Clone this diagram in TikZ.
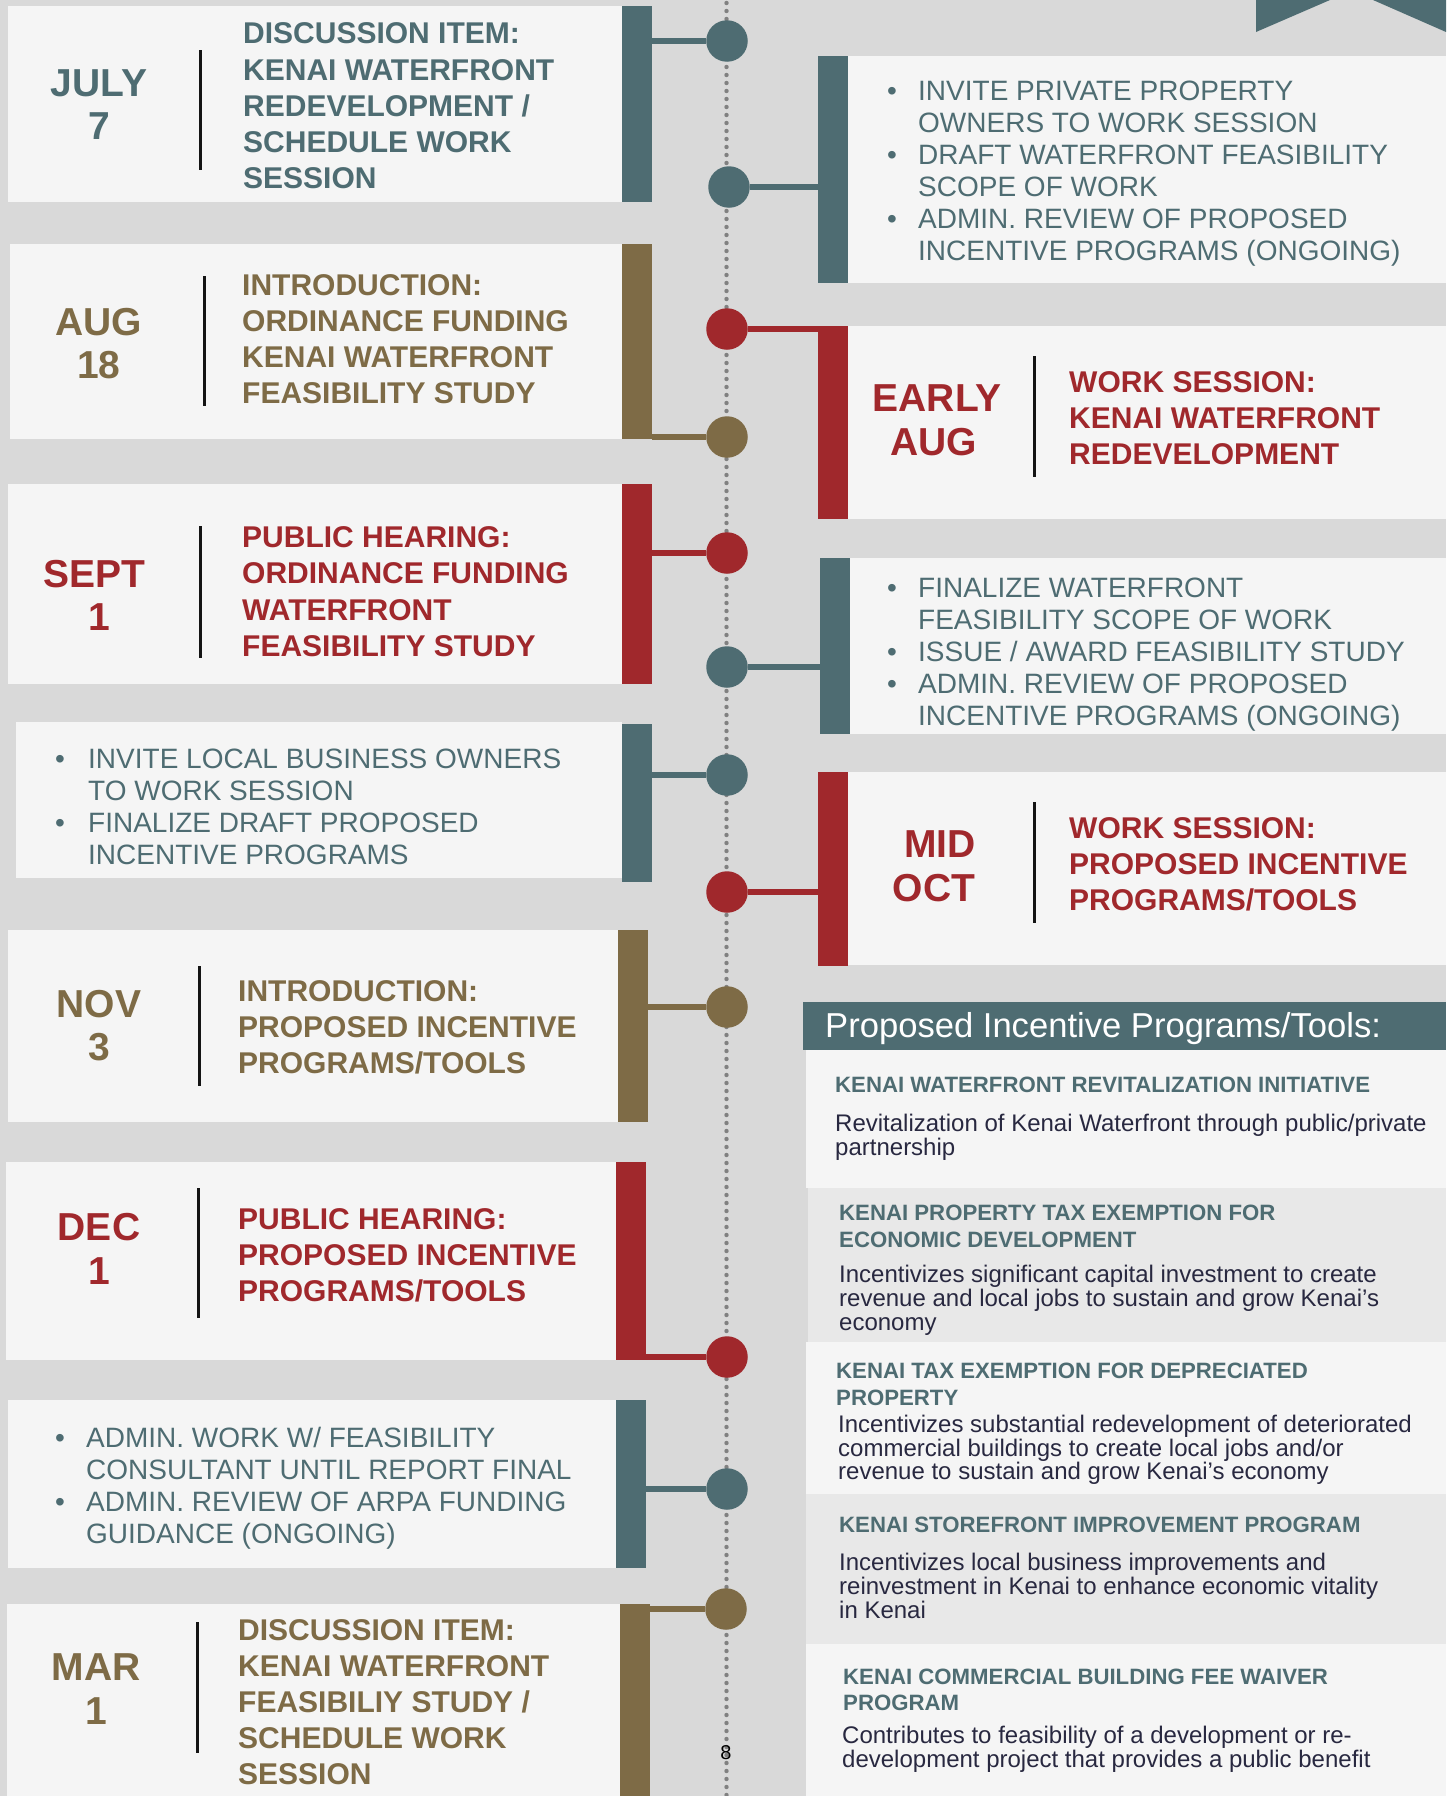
\documentclass[tikz,border=0pt]{standalone}
\usepackage{fontspec}
\setmainfont{Liberation Sans}
\definecolor{cteal}{RGB}{78,108,114}
\definecolor{cbrown}{RGB}{126,107,70}
\definecolor{cred}{RGB}{160,40,44}
\definecolor{cbg}{RGB}{217,217,217}
\definecolor{cwhite}{RGB}{245,245,245}
\definecolor{crow}{RGB}{232,232,232}
\definecolor{cdot}{RGB}{128,128,128}
\definecolor{cnavy}{RGB}{40,40,64}
\definecolor{csep}{RGB}{20,20,20}
\newcommand\rbox[6]{\node[rbx, fill=#6, minimum width={#4-#2}, minimum height={#5-#3}] (#1) at (#2,#3) {};}
\newcommand\tline[5]{\node[#1] (#2) at (#3,#4) {#5};}
\begin{document}
\begin{tikzpicture}[x=1pt,y=-1pt,
  rbx/.style={rectangle, anchor=north west, inner sep=0, outer sep=0, draw=none},
  ttl/.style={font=\bfseries\fontsize{30}{36}\selectfont, anchor=base west, inner sep=0},
  dte/.style={font=\bfseries\fontsize{39}{44}\selectfont, anchor=base, inner sep=0},
  blt/.style={font=\fontsize{28}{32}\selectfont, anchor=base west, inner sep=0, text=cteal},
  bul/.style={font=\fontsize{28}{32}\selectfont, anchor=base, inner sep=0, text=cteal},
  ptl/.style={font=\bfseries\fontsize{22.2}{26}\selectfont, anchor=base west, inner sep=0, text=cteal},
  pbd/.style={font=\fontsize{24}{24}\selectfont, anchor=base west, inner sep=0, text=cnavy},
  hdr/.style={font=\fontsize{34.6}{38}\selectfont, anchor=base west, inner sep=0, text=white},
  sepl/.style={line width=3pt, draw=csep},
  conn/.style={line width=6pt},
  tdot/.style={circle, inner sep=0, outer sep=0, minimum size=41.5pt, draw=none}]
\useasboundingbox (0,0) rectangle (1446,1796);
\fill[cbg] (0,0) rectangle (1446,1796);
% ribbon end top right
\fill[cteal] (1256,0) -- (1330,0) -- (1256,32) -- cycle;
\fill[cteal] (1373,0) -- (1446,0) -- (1446,32) -- cycle;
% timeline dots
\coordinate (ttop) at (726.5,3);
\coordinate (tbot) at (726.5,1796);
\draw[cdot, line width=4.4pt, line cap=round, dash pattern=on 0pt off 8pt] (ttop) -- (tbot);
% left boxes
\rbox{W1}{8}{6}{622}{202}{cwhite}   \rbox{LB1}{622}{6}{652}{202}{cteal}
\rbox{W2}{10}{244}{622}{439}{cwhite} \rbox{LB2}{622}{244}{652}{439}{cbrown}
\rbox{W3}{8}{484}{622}{684}{cwhite}  \rbox{LB3}{622}{484}{652}{684}{cred}
\rbox{W4}{16}{722}{622}{878}{cwhite} \rbox{LB4}{622}{724}{652}{882}{cteal}
\rbox{W5}{8}{930}{618}{1122}{cwhite} \rbox{LB5}{618}{930}{648}{1122}{cbrown}
\rbox{W6}{6}{1162}{616}{1360}{cwhite} \rbox{LB6}{616}{1162}{646}{1360}{cred}
\rbox{W7}{8}{1400}{616}{1568}{cwhite} \rbox{LB7}{616}{1400}{646}{1568}{cteal}
\rbox{W8}{7}{1604}{620}{1796}{cwhite} \rbox{LB8}{620}{1604}{650}{1796}{cbrown}
% right boxes
\rbox{RW1}{848}{56}{1446}{283}{cwhite}  \rbox{RB1}{818}{56}{848}{283}{cteal}
\rbox{RW2}{848}{326}{1446}{519}{cwhite} \rbox{RB2}{818}{326}{848}{519}{cred}
\rbox{RW3}{850}{558}{1446}{734}{cwhite} \rbox{RB3}{820}{558}{850}{734}{cteal}
\rbox{RW4}{848}{772}{1446}{965}{cwhite} \rbox{RB4}{818}{772}{848}{966}{cred}
% panel
\rbox{PH}{803}{1002}{1446}{1050}{cteal}
\rbox{P1}{806}{1050}{1446}{1188}{cwhite}
\rbox{P2}{808}{1188}{1446}{1342}{crow}
\rbox{P3}{806}{1342}{1446}{1494}{cwhite}
\rbox{P4}{806}{1494}{1446}{1644}{crow}
\rbox{P5}{806}{1644}{1446}{1796}{cwhite}
% circles
\node[tdot, fill=cteal]  (c1)  at (727,41) {};
\node[tdot, fill=cteal]  (c2)  at (729,187) {};
\node[tdot, fill=cred]   (c3)  at (727,329) {};
\node[tdot, fill=cbrown] (c4)  at (727,437) {};
\node[tdot, fill=cred]   (c5)  at (727,553) {};
\node[tdot, fill=cteal]  (c6)  at (727,667) {};
\node[tdot, fill=cteal]  (c7)  at (727,775) {};
\node[tdot, fill=cred]   (c8)  at (727,892) {};
\node[tdot, fill=cbrown] (c9)  at (727,1007) {};
\node[tdot, fill=cred]   (c10) at (727,1357) {};
\node[tdot, fill=cteal]  (c11) at (727,1489) {};
\node[tdot, fill=cbrown] (c12) at (726,1609) {};
% connectors
\draw[conn, cteal]  (c1)  -- (c1 -| LB1.east);
\draw[conn, cteal]  (c2)  -- (c2 -| RB1.west);
\draw[conn, cred]   (c3)  -- (c3 -| RB2.west);
\draw[conn, cbrown] (c4)  -- (c4 -| LB2.east);
\draw[conn, cred]   (c5)  -- (c5 -| LB3.east);
\draw[conn, cteal]  (c6)  -- (c6 -| RB3.west);
\draw[conn, cteal]  (c7)  -- (c7 -| LB4.east);
\draw[conn, cred]   (c8)  -- (c8 -| RB4.west);
\draw[conn, cbrown] (c9)  -- (c9 -| LB5.east);
\draw[conn, cred]   (c10) -- (c10 -| LB6.east);
\draw[conn, cteal]  (c11) -- (c11 -| LB7.east);
\draw[conn, cbrown] (c12) -- (c12 -| LB8.east);
% separators
\draw[sepl] (200,50) -- (200,170);
\draw[sepl] (204,276) -- (204,406);
\draw[sepl] (200,526) -- (200,658);
\draw[sepl] (199,966) -- (199,1086);
\draw[sepl] (198,1188) -- (198,1318);
\draw[sepl] (197,1622) -- (197,1753);
\draw[sepl] (1034,356) -- (1034,477);
\draw[sepl] (1034,802) -- (1034,923);
% box 1
\tline{dte, text=cteal}{d1a}{99}{96}{JULY}
\tline{dte, text=cteal}{d1b}{99}{139}{7}
\tline{ttl, text=cteal}{t1a}{243}{43}{DISCUSSION ITEM:}
\tline{ttl, text=cteal}{t1b}{243}{80}{KENAI WATERFRONT}
\tline{ttl, text=cteal}{t1c}{243}{116}{REDEVELOPMENT /}
\tline{ttl, text=cteal}{t1d}{243}{152}{SCHEDULE WORK}
\tline{ttl, text=cteal}{t1e}{243}{188}{SESSION}
% box 2
\tline{dte, text=cbrown}{d2a}{99}{335}{AUG}
\tline{dte, text=cbrown}{d2b}{99}{378}{18}
\tline{ttl, text=cbrown}{t2a}{242}{295}{INTRODUCTION:}
\tline{ttl, text=cbrown}{t2b}{242}{331}{ORDINANCE FUNDING}
\tline{ttl, text=cbrown}{t2c}{242}{367}{KENAI WATERFRONT}
\tline{ttl, text=cbrown}{t2d}{242}{403}{FEASIBILITY STUDY}
% box 3
\tline{dte, text=cred}{d3a}{94}{587}{SEPT}
\tline{dte, text=cred}{d3b}{99}{630}{1}
\tline{ttl, text=cred}{t3a}{242}{547}{PUBLIC HEARING:}
\tline{ttl, text=cred}{t3b}{242}{583}{ORDINANCE FUNDING}
\tline{ttl, text=cred}{t3c}{242}{620}{WATERFRONT}
\tline{ttl, text=cred}{t3d}{242}{656}{FEASIBILITY STUDY}
% box 4
\tline{bul}{b4a}{60}{768}{•}
\tline{blt}{t4a}{88}{768}{INVITE LOCAL BUSINESS OWNERS}
\tline{blt}{t4b}{88}{800}{TO WORK SESSION}
\tline{bul}{b4b}{60}{832}{•}
\tline{blt}{t4c}{88}{832}{FINALIZE DRAFT PROPOSED}
\tline{blt}{t4d}{88}{864}{INCENTIVE PROGRAMS}
% box 5
\tline{dte, text=cbrown}{d5a}{99}{1017}{NOV}
\tline{dte, text=cbrown}{d5b}{99}{1060}{3}
\tline{ttl, text=cbrown}{t5a}{238}{1001}{INTRODUCTION:}
\tline{ttl, text=cbrown}{t5b}{238}{1037}{PROPOSED INCENTIVE}
\tline{ttl, text=cbrown}{t5c}{238}{1073}{PROGRAMS/TOOLS}
% box 6
\tline{dte, text=cred}{d6a}{99}{1240}{DEC}
\tline{dte, text=cred}{d6b}{99}{1284}{1}
\tline{ttl, text=cred}{t6a}{238}{1229}{PUBLIC HEARING:}
\tline{ttl, text=cred}{t6b}{238}{1265}{PROPOSED INCENTIVE}
\tline{ttl, text=cred}{t6c}{238}{1301}{PROGRAMS/TOOLS}
% box 7
\tline{bul}{b7a}{60}{1447}{•}
\tline{blt}{t7a}{86}{1447}{ADMIN. WORK W/ FEASIBILITY}
\tline{blt}{t7b}{86}{1479}{CONSULTANT UNTIL REPORT FINAL}
\tline{bul}{b7b}{60}{1511}{•}
\tline{blt}{t7c}{86}{1511}{ADMIN. REVIEW OF ARPA FUNDING}
\tline{blt}{t7d}{86}{1543}{GUIDANCE (ONGOING)}
% box 8
\tline{dte, text=cbrown}{d8a}{96}{1680}{MAR}
\tline{dte, text=cbrown}{d8b}{96}{1724}{1}
\tline{ttl, text=cbrown}{t8a}{238}{1640}{DISCUSSION ITEM:}
\tline{ttl, text=cbrown}{t8b}{238}{1676}{KENAI WATERFRONT}
\tline{ttl, text=cbrown}{t8c}{238}{1712}{FEASIBILIY STUDY /}
\tline{ttl, text=cbrown}{t8d}{238}{1748}{SCHEDULE WORK}
\tline{ttl, text=cbrown}{t8e}{238}{1784}{SESSION}
% right box 1
\tline{bul}{br1a}{892}{100}{•}
\tline{blt}{r1a}{918}{100}{INVITE PRIVATE PROPERTY}
\tline{blt}{r1b}{918}{132}{OWNERS TO WORK SESSION}
\tline{bul}{br1b}{892}{164}{•}
\tline{blt}{r1c}{918}{164}{DRAFT WATERFRONT FEASIBILITY}
\tline{blt}{r1d}{918}{196}{SCOPE OF WORK}
\tline{bul}{br1c}{892}{228}{•}
\tline{blt}{r1e}{918}{228}{ADMIN. REVIEW OF PROPOSED}
\tline{blt}{r1f}{918}{260}{INCENTIVE PROGRAMS (ONGOING)}
% right box 2
\tline{dte, text=cred}{dr2a}{937}{411}{EARLY}
\tline{dte, text=cred}{dr2b}{934}{455}{AUG}
\tline{ttl, text=cred}{r2a}{1069}{392}{WORK SESSION:}
\tline{ttl, text=cred}{r2b}{1069}{428}{KENAI WATERFRONT}
\tline{ttl, text=cred}{r2c}{1069}{464}{REDEVELOPMENT}
% right box 3
\tline{bul}{br3a}{892}{597}{•}
\tline{blt}{r3a}{918}{597}{FINALIZE WATERFRONT}
\tline{blt}{r3b}{918}{629}{FEASIBILITY SCOPE OF WORK}
\tline{bul}{br3b}{892}{661}{•}
\tline{blt}{r3c}{918}{661}{ISSUE / AWARD FEASIBILITY STUDY}
\tline{bul}{br3c}{892}{693}{•}
\tline{blt}{r3d}{918}{693}{ADMIN. REVIEW OF PROPOSED}
\tline{blt}{r3e}{918}{725}{INCENTIVE PROGRAMS (ONGOING)}
% right box 4
\tline{dte, text=cred}{dr4a}{940}{857}{MID}
\tline{dte, text=cred}{dr4b}{934}{901}{OCT}
\tline{ttl, text=cred}{r4a}{1069}{838}{WORK SESSION:}
\tline{ttl, text=cred}{r4b}{1069}{874}{PROPOSED INCENTIVE}
\tline{ttl, text=cred}{r4c}{1069}{910}{PROGRAMS/TOOLS}
% panel texts
\tline{hdr}{ph}{825}{1037}{Proposed Incentive Programs/Tools:}
\tline{ptl}{p1t}{835}{1092}{KENAI WATERFRONT REVITALIZATION INITIATIVE}
\tline{pbd}{p1a}{835}{1131}{Revitalization of Kenai Waterfront through public/private}
\tline{pbd}{p1b}{835}{1155}{partnership}
\tline{ptl}{p2t}{839}{1220}{KENAI PROPERTY TAX EXEMPTION FOR}
\tline{ptl}{p2u}{839}{1247}{ECONOMIC DEVELOPMENT}
\tline{pbd}{p2a}{839}{1282}{Incentivizes significant capital investment to create}
\tline{pbd}{p2b}{839}{1306}{revenue and local jobs to sustain and grow Kenai’s}
\tline{pbd}{p2c}{839}{1330}{economy}
\tline{ptl}{p3t}{836}{1378}{KENAI TAX EXEMPTION FOR DEPRECIATED}
\tline{ptl}{p3u}{836}{1405}{PROPERTY}
\tline{pbd}{p3a}{838}{1432}{Incentivizes substantial redevelopment of deteriorated}
\tline{pbd}{p3b}{838}{1456}{commercial buildings to create local jobs and/or}
\tline{pbd}{p3c}{838}{1479}{revenue to sustain and grow Kenai’s economy}
\tline{ptl}{p4t}{839}{1532}{KENAI STOREFRONT IMPROVEMENT PROGRAM}
\tline{pbd}{p4a}{839}{1570}{Incentivizes local business improvements and}
\tline{pbd}{p4b}{839}{1594}{reinvestment in Kenai to enhance economic vitality}
\tline{pbd}{p4c}{839}{1618}{in Kenai}
\tline{ptl}{p5t}{843}{1684}{KENAI COMMERCIAL BUILDING FEE WAIVER}
\tline{ptl}{p5u}{843}{1710}{PROGRAM}
\tline{pbd}{p5a}{842}{1743}{Contributes to feasibility of a development or re-}
\tline{pbd}{p5b}{842}{1767}{development project that provides a public benefit}
% page number
\node[font=\fontsize{20}{24}\selectfont, anchor=base, inner sep=0, text=black] (pg) at (726,1759) {8};
\end{tikzpicture}
\end{document}
